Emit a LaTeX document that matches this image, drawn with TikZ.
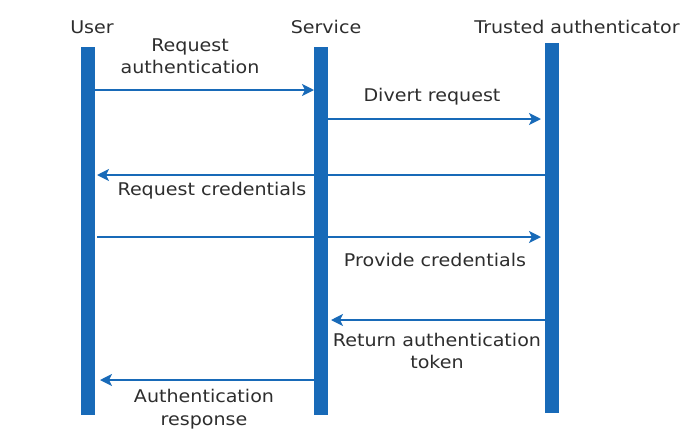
\documentclass[tikz,border=0pt]{standalone}
\usepackage{fontspec}
\setmainfont[FakeStretch=1.09]{DejaVu Sans}
\usetikzlibrary{arrows.meta}
\definecolor{barblue}{RGB}{24,106,184}
\definecolor{txt}{RGB}{45,45,45}
\tikzset{
  lifeline/.style={fill=barblue, draw=none, minimum width=14pt, inner sep=0pt, outer sep=0pt},
  msg/.style={draw=barblue, line width=2pt, -{Stealth[length=12pt,width=12pt,inset=3pt]}},
  lbl/.style={text=txt, font=\fontsize{17.5}{22.5}\selectfont, align=center, inner sep=0pt},
}
\begin{document}
\begin{tikzpicture}[x=1pt,y=-1pt]
\useasboundingbox (0,0) rectangle (685,445);
% headers
\node[lbl] (hu) at (92,27) {User};
\node[lbl] (hs) at (326,27) {Service};
\node[lbl] (ht) at (577,27) {Trusted authenticator};
% message endpoints
\coordinate (a1) at (95,90);   \coordinate (b1) at (314,90);
\coordinate (a2) at (328,119); \coordinate (b2) at (541,119);
\coordinate (a3) at (545,175); \coordinate (b3) at (97,175);
\coordinate (a4) at (97,237);  \coordinate (b4) at (541,237);
\coordinate (a5) at (545,320); \coordinate (b5) at (331,320);
\coordinate (a6) at (314,380); \coordinate (b6) at (100,380);
% messages (behind the bars)
\draw[msg] (a1) -- (b1);
\draw[msg] (a2) -- (b2);
\draw[msg] (a3) -- (b3);
\draw[msg] (a4) -- (b4);
\draw[msg] (a5) -- (b5);
\draw[msg] (a6) -- (b6);
% lifelines
\node[lifeline, minimum height=368pt, anchor=north] (u) at (88,47) {};
\node[lifeline, minimum height=368pt, anchor=north] (s) at (321,47) {};
\node[lifeline, minimum height=370pt, anchor=north] (t) at (552,43) {};
% labels
\node[lbl] (l1) at (190,56) {Request\\authentication};
\node[lbl] (l2) at (432,97) {Divert request};
\node[lbl] (l3) at (212,191) {Request credentials};
\node[lbl] (l4) at (435,260) {Provide credentials};
\node[lbl] (l5) at (437,351) {Return authentication\\token};
\node[lbl] (l6) at (204,409) {Authentication\\response};
\end{tikzpicture}
\end{document}
